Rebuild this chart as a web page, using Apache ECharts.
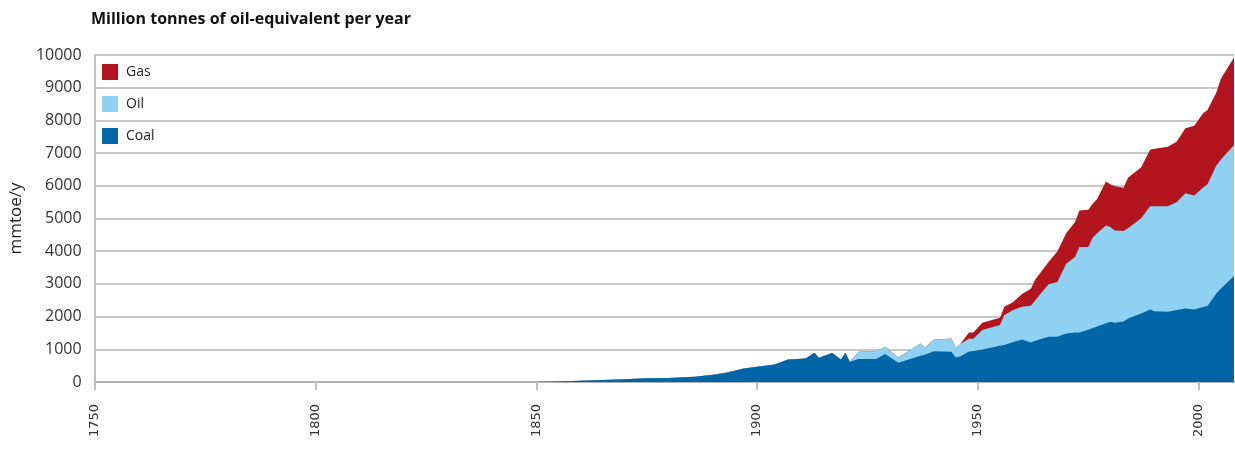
<!DOCTYPE html>
<html>
<head>
<meta charset="utf-8">
<script src="https://cdn.jsdelivr.net/npm/echarts@6/dist/echarts.min.js"></script>
<style>
  html, body { margin: 0; padding: 0; background: #fff; }
  #chart { width: 1235px; height: 450px; }
</style>
</head>
<body>
<div id="chart"></div>
<script>
// years of the data points (irregular)
const years = [1850, 1860, 1870, 1875, 1880, 1886, 1890, 1893, 1897, 1904, 1907, 1911, 1913, 1914, 1917, 1919, 1920, 1921,
  1923, 1927, 1929, 1932, 1937, 1938, 1940, 1944, 1945, 1946, 1948, 1949, 1951, 1955, 1956, 1958, 1960, 1962, 1963,
  1966, 1968, 1970, 1972, 1973, 1975, 1976, 1977, 1979, 1980, 1981, 1983, 1984, 1987, 1989, 1990, 1993, 1995, 1997,
  1999, 2001, 2002, 2004, 2005, 2008];

// mmtoe per year for each fuel
const coal = [0, 40, 85, 115, 120, 162, 220, 285, 415, 535, 690, 720, 895, 745, 890, 690, 895, 620,
  700, 705, 855, 590, 800, 830, 940, 925, 750, 780, 935, 945, 997, 1107, 1130, 1220, 1302, 1210, 1260,
  1382, 1382, 1480, 1515, 1515, 1600, 1650, 1700, 1800, 1840, 1810, 1850, 1943, 2095, 2217, 2160, 2150, 2200, 2248,
  2217, 2297, 2327, 2705, 2850, 3242];
const oil = [0, 0, 0, 0, 0, 0, 0, 0, 0, 0, 0, 0, 0, 0, 0, 0, 0, 0,
  225, 245, 222, 163, 380, 216, 350, 408, 290, 380, 385, 375, 593, 633, 920, 980, 998, 1120, 1240,
  1608, 1678, 2140, 2307, 2612, 2527, 2763, 2850, 2988, 2900, 2826, 2765, 2757, 2916, 3160, 3217, 3227, 3299, 3526,
  3487, 3653, 3723, 3915, 3950, 4008];
const gas = [0, 0, 0, 0, 0, 0, 0, 0, 0, 0, 0, 0, 0, 0, 0, 0, 0, 0,
  0, 0, 0, 0, 0, 0, 0, 0, 0, 0, 195, 195, 220, 222, 250, 250, 390, 520, 632,
  680, 930, 930, 1068, 1119, 1140, 1037, 1050, 1342, 1310, 1351, 1323, 1543, 1555, 1729, 1753, 1821, 1851, 1983,
  2134, 2265, 2267, 2230, 2463, 2672];

const xTicks = [1750, 1800, 1850, 1900, 1950, 2000];
const legendNames = ['Gas', 'Oil', 'Coal'];

const colors = { Coal: '#0066a7', Oil: '#8ed1f2', Gas: '#b3151e' };

// both axes are value axes, so do the stacking here: each area is drawn from 0
// up to the running total, gas at the back and coal in front
const stackTops = (lists) => years.map((y, i) => [y, lists.reduce((s, l) => s + l[i], 0)]);

const areaSeries = (name, data) => ({
  name: name,
  type: 'line',
  data: data,
  symbol: 'none',
  showSymbol: false,
  lineStyle: { width: 0 },
  areaStyle: { color: colors[name], opacity: 1 },
  itemStyle: { color: colors[name] },
  emphasis: { disabled: true },
  animation: false
});

const chart = echarts.init(document.getElementById('chart'));
chart.setOption({
  backgroundColor: '#fff',
  animation: false,
  title: {
    text: 'Million tonnes of oil-equivalent per year',
    left: 86,
    top: 6,
    textStyle: { fontFamily: 'Open Sans', fontSize: 16, fontWeight: 'bold', color: '#111' }
  },
  legend: {
    data: legendNames,
    orient: 'vertical',
    left: 97,
    top: 59,
    icon: 'rect',
    itemWidth: 16,
    itemHeight: 16,
    itemGap: 16,
    textStyle: { fontFamily: 'Open Sans', fontSize: 14, color: '#222', padding: [0, 0, 0, 3] }
  },
  grid: { left: 91, right: 1, top: 55, bottom: 68, containLabel: false },
  xAxis: {
    type: 'value',
    min: 1750,
    max: 2008,
    interval: 50,
    axisLine: { show: true, lineStyle: { color: '#b0b0b0', width: 2 } },
    axisTick: { show: true, length: 8, lineStyle: { color: '#c0c0c0', width: 2 }, customValues: xTicks },
    axisLabel: {
      rotate: 90,
      margin: 22,
      fontFamily: 'DejaVu Sans',
      fontSize: 13,
      color: '#333',
      customValues: xTicks,
      formatter: (v) => String(v)
    },
    splitLine: { show: false }
  },
  yAxis: {
    type: 'value',
    min: 0,
    max: 10000,
    interval: 1000,
    name: 'mmtoe/y',
    nameLocation: 'middle',
    nameRotate: 90,
    nameGap: 60,
    nameTextStyle: { fontFamily: 'Open Sans', fontSize: 17, color: '#222' },
    axisLine: { show: true, lineStyle: { color: '#c0c0c0', width: 2 } },
    axisTick: { show: false },
    axisLabel: { margin: 13, fontFamily: 'Open Sans', fontSize: 16, color: '#333', formatter: (v) => String(v) },
    splitLine: { show: true, lineStyle: { color: '#c8c8c8', width: 2 } }
  },
  series: [
    areaSeries('Gas', stackTops([coal, oil, gas])),
    areaSeries('Oil', stackTops([coal, oil])),
    areaSeries('Coal', stackTops([coal]))
  ]
});
</script>
</body>
</html>
